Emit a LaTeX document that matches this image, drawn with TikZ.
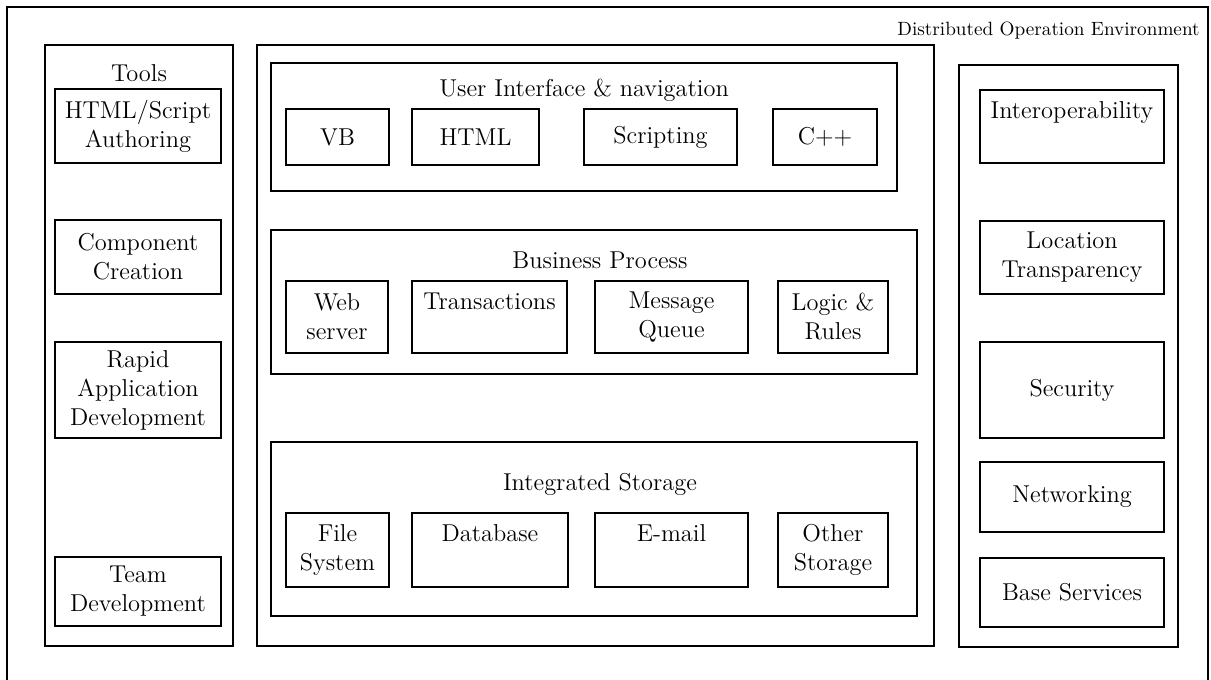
\documentclass[tikz,border=0pt]{standalone}
\newcommand{\cellfont}{\fontsize{12.2}{14.5}\selectfont}
\begin{document}
\begin{tikzpicture}[
  x=0.5pt, y=-0.5pt,
  framebox/.style={rectangle, draw=black, line width=0.7pt, inner sep=0pt},
  cellbox/.style={rectangle, draw=black, line width=0.7pt, inner sep=3pt,
                  align=center, font=\cellfont},
  topcell/.style={cellbox, text height=11pt, text depth=#1},
  headtext/.style={inner sep=0pt, font=\cellfont, anchor=base}
]
\useasboundingbox (0,0) rectangle (1211,680);

\node[framebox, minimum width=600.5pt, minimum height=346.5pt] (env) at (607.5,353.5) {};
\node[headtext, anchor=base east, font=\fontsize{9.6}{11}\selectfont] (envlbl) at (1200,35) {Distributed Operation Environment};

\node[framebox, minimum width=94pt,    minimum height=300.5pt] (tools) at (139,345.5)    {};
\node[framebox, minimum width=338.5pt, minimum height=300.5pt] (core)  at (595.5,345.5)  {};
\node[framebox, minimum width=109.5pt, minimum height=291pt]   (svc)   at (1068.5,356)   {};

\node[headtext] (toolslbl) at (139,81) {Tools};
\node[cellbox, minimum width=83pt, minimum height=37pt]   (html)  at (138,126)   {HTML/Script\\Authoring};
\node[cellbox, minimum width=83pt, minimum height=37pt]   (comp)  at (138,257)   {Component\\Creation};
\node[cellbox, minimum width=83pt, minimum height=48pt]   (rapid) at (138,390)   {Rapid\\Application\\Development};
\node[cellbox, minimum width=83pt, minimum height=34.5pt] (team)  at (138,591.5) {Team\\Development};

\node[framebox, minimum width=313pt, minimum height=64pt] (ui)   at (584,127) {};
\node[framebox, minimum width=323pt, minimum height=72pt] (biz)  at (594,302) {};
\node[framebox, minimum width=323pt, minimum height=87pt] (stor) at (594,529) {};

\node[headtext] (uilbl)   at (584,96)  {User Interface \& navigation};
\node[headtext] (bizlbl)  at (600,268) {Business Process};
\node[headtext] (storlbl) at (600,490) {Integrated Storage};

\node[cellbox, minimum width=51.5pt, minimum height=28pt] (vb)  at (337.5,137) {VB};
\node[cellbox, minimum width=63.5pt, minimum height=28pt] (htm) at (475.5,137) {HTML};
\node[cellbox, minimum width=76.5pt, minimum height=28pt] (scr) at (660.5,137) {Scripting};
\node[cellbox, minimum width=52pt,   minimum height=28pt] (cpp) at (825,137)   {C++};

\node[cellbox, minimum width=51pt,   minimum height=36pt] (web)   at (337,317)   {Web\\server};
\node[topcell=19pt, minimum width=77.5pt, minimum height=36pt] (trans) at (489.5,317) {Transactions};
\node[cellbox, minimum width=76.5pt, minimum height=36pt] (msg)   at (671.5,317) {Message\\Queue};
\node[cellbox, minimum width=55pt,   minimum height=36pt] (logic) at (833,317)   {Logic \&\\Rules};

\node[cellbox, minimum width=51.5pt, minimum height=37pt] (fs)    at (337.5,550) {File\\System};
\node[topcell=20pt, minimum width=78pt,   minimum height=37pt] (db)    at (490,550)   {Database};
\node[topcell=20pt, minimum width=76.5pt, minimum height=37pt] (mail)  at (671.5,550) {E-mail};
\node[cellbox, minimum width=55pt,   minimum height=37pt] (other) at (833,550)   {Other\\Storage};

\node[topcell=19.5pt, minimum width=92pt, minimum height=36.5pt] (interop) at (1072,126.5) {Interoperability};
\node[cellbox, minimum width=92pt, minimum height=36.5pt] (loc)  at (1072,257.5) {Location\\Transparency};
\node[cellbox, minimum width=92pt, minimum height=48pt]   (sec)  at (1072,390)   {Security};
\node[cellbox, minimum width=92pt, minimum height=35pt]   (net)  at (1072,497)   {Networking};
\node[cellbox, minimum width=92pt, minimum height=34.5pt] (base) at (1072,592.5) {Base Services};
\end{tikzpicture}
\end{document}
